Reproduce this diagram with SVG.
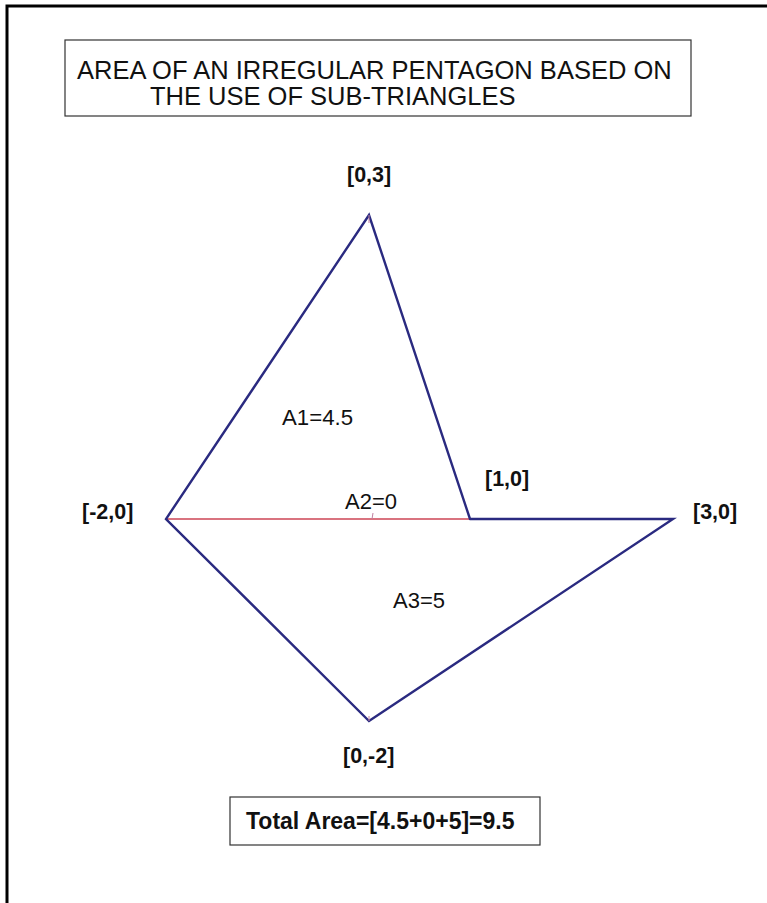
<svg xmlns="http://www.w3.org/2000/svg" width="767" height="903" viewBox="0 0 767 903">
<style>
.t{font-family:"Liberation Sans",Arial,sans-serif;fill:#111}
.b{font-weight:bold;font-size:21.5px}
.n{font-size:22px}
.edge{fill:none;stroke:#2a2a80;stroke-width:2.4;stroke-linecap:round;stroke-linejoin:miter}
.box{fill:#fff;stroke:#333;stroke-width:1.2}
</style>
<rect width="767" height="903" fill="#fff"/>
<path d="M7,903 V6 H767" fill="none" stroke="#000" stroke-width="3"/>
<g id="title">
<rect class="box" x="65" y="40" width="626" height="76"/>
<text class="t" x="77" y="79" font-size="25.5">AREA OF AN IRREGULAR PENTAGON BASED ON</text>
<text class="t" x="150" y="105" font-size="25.5">THE USE OF SUB-TRIANGLES</text>
</g>
<g id="connectors">
<line x1="166" y1="519" x2="470" y2="519" stroke="#cc4455" stroke-width="1.6"/>
<path class="edge" d="M470,519 L369,215 L166,519 L369,721 L673,519 L470,519"/>
<path d="M369,215 v8 M372,519 l1,-6 M369,721 v-5" stroke="#c080a0" stroke-width="1" fill="none"/>
</g>
<g id="v03"><text class="t b" x="347" y="182">[0,3]</text></g>
<g id="vm20"><text class="t b" x="82" y="519">[-2,0]</text></g>
<g id="v10"><text class="t b" x="485" y="486">[1,0]</text></g>
<g id="v30"><text class="t b" x="693" y="519">[3,0]</text></g>
<g id="v0m2"><text class="t b" x="343" y="763">[0,-2]</text></g>
<g id="a1"><text class="t n" x="282" y="425" textLength="71" lengthAdjust="spacingAndGlyphs">A1=4.5</text></g>
<g id="a2"><text class="t n" x="345" y="509" textLength="52" lengthAdjust="spacingAndGlyphs">A2=0</text></g>
<g id="a3"><text class="t n" x="393" y="608" textLength="52" lengthAdjust="spacingAndGlyphs">A3=5</text></g>
<g id="total">
<rect class="box" x="230" y="797" width="310" height="48"/>
<text class="t" x="246" y="829" font-size="23" font-weight="bold">Total Area=[4.5+0+5]=9.5</text>
</g>
</svg>
